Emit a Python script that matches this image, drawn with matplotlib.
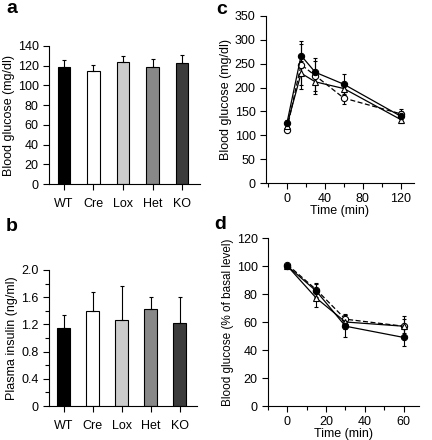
import matplotlib
matplotlib.use("Agg")
import matplotlib.pyplot as plt
from matplotlib.ticker import MultipleLocator, FuncFormatter

plt.rcParams["font.family"] = ["Liberation Sans", "DejaVu Sans"]
plt.rcParams["font.size"] = 8

# --- data -------------------------------------------------------------
genotypes = ["WT", "Cre", "Lox", "Het", "KO"]
bar_colors = ["#000000", "#ffffff", "#cccccc", "#888888", "#3c3c3c"]

glucose_mean = [119, 115, 124, 119, 123]
glucose_err = [7, 6, 6, 8, 8]

insulin_mean = [1.15, 1.40, 1.26, 1.42, 1.22]
insulin_err = [0.19, 0.27, 0.51, 0.18, 0.38]

gtt_time = [0, 15, 30, 60, 120]
gtt_filled = [125, 267, 232, 207, 140]
gtt_filled_err = [6, 25, 23, 22, 10]
gtt_triangle = [120, 230, 212, 198, 133]
gtt_triangle_err = [6, 25, 20, 12, 8]
gtt_open = [112, 248, 225, 178, 145]
gtt_open_err = [6, 50, 38, 13, 10]

itt_time = [0, 15, 30, 60]
itt_filled = [100, 82, 57, 49]
itt_filled_err = [0, 5, 8, 6]
itt_triangle = [100, 77, 60, 57]
itt_triangle_err = [0, 6, 5, 5]
itt_open = [101, 83, 62, 57]
itt_open_err = [0, 5, 4, 7]

W, H = 432, 440
fig = plt.figure(figsize=(W / 100, H / 100), dpi=100)


def axes_px(left, top, right, bottom):
    return fig.add_axes([left / W, 1 - bottom / H, (right - left) / W, (bottom - top) / H])


def style(ax):
    for s in ("top", "right"):
        ax.spines[s].set_visible(False)
    for s in ("left", "bottom"):
        ax.spines[s].set_linewidth(0.8)
    ax.tick_params(which="both", direction="out", width=0.8, labelsize=9)
    ax.tick_params(which="major", length=4)
    ax.tick_params(which="minor", length=3)


def bar_panel(ax, means, errs, ylim, step, minor, ylabel):
    x = range(len(genotypes))
    ax.bar(x, means, width=0.42, color=bar_colors, edgecolor="black", linewidth=0.8)
    ax.errorbar(x, means, yerr=[[0] * len(errs), errs], fmt="none",
                ecolor="black", elinewidth=0.8, capsize=1.5, capthick=0.8)
    ax.set_xlim(-0.5, 4.6)
    ax.set_ylim(*ylim)
    ax.yaxis.set_major_locator(MultipleLocator(step))
    if minor:
        ax.yaxis.set_minor_locator(MultipleLocator(minor))
    ax.set_xticks(list(x))
    ax.set_xticklabels(genotypes, fontsize=9)
    ax.tick_params(axis="x", length=0, pad=6)
    ax.set_ylabel(ylabel, fontsize=9, labelpad=2)
    style(ax)


def line_panel(ax, t, series):
    for y, err, marker, face, ls in series:
        ax.errorbar(t, y, yerr=err, color="black", lw=0.9, ls=ls, marker=marker,
                    ms=4.5, mfc=face, mec="black", mew=0.8, elinewidth=0.8,
                    capsize=1.5, capthick=0.8)
    style(ax)


# a
ax = axes_px(49, 46, 200, 184)
bar_panel(ax, glucose_mean, glucose_err, (0, 140), 20, None, "Blood glucose (mg/dl)")
ax.yaxis.set_major_formatter(FuncFormatter(lambda v, p: f"{v:.0f}"))

# b
ax = axes_px(49, 270, 197, 406)
bar_panel(ax, insulin_mean, insulin_err, (0, 2.0), 0.4, 0.2, "Plasma insulin (ng/ml)")
ax.yaxis.set_major_formatter(FuncFormatter(lambda v, p: "0" if abs(v) < 1e-9 else f"{v:.1f}"))

# c
ax = axes_px(266, 16, 414, 183)
line_panel(ax, gtt_time, [
    (gtt_open, gtt_open_err, "o", "white", (0, (4, 2))),
    (gtt_triangle, gtt_triangle_err, "^", "white", "-"),
    (gtt_filled, gtt_filled_err, "o", "black", "-"),
])
ax.set_xlim(-22, 134)
ax.set_ylim(0, 350)
ax.xaxis.set_major_locator(MultipleLocator(40))
ax.xaxis.set_minor_locator(MultipleLocator(20))
ax.yaxis.set_major_locator(MultipleLocator(50))
ax.set_xlabel("Time (min)", fontsize=9, labelpad=0)
ax.set_ylabel("Blood glucose (mg/dl)", fontsize=9, labelpad=2)

# d
ax = axes_px(268, 238, 419, 406)
line_panel(ax, itt_time, [
    (itt_open, itt_open_err, "o", "white", (0, (4, 2))),
    (itt_triangle, itt_triangle_err, "^", "white", "-"),
    (itt_filled, itt_filled_err, "o", "black", "-"),
])
ax.set_xlim(-10, 68)
ax.set_ylim(0, 120)
ax.xaxis.set_major_locator(MultipleLocator(20))
ax.xaxis.set_minor_locator(MultipleLocator(10))
ax.yaxis.set_major_locator(MultipleLocator(20))
ax.set_xlabel("Time (min)", fontsize=9, labelpad=0)
ax.set_ylabel("Blood glucose (% of basal level)", fontsize=8.5, labelpad=2)

for label, x, y in [("a", 6, 0), ("b", 6, 218), ("c", 216, 1), ("d", 214, 216)]:
    fig.text(x / W, 1 - y / H, label, fontsize=14, fontweight="bold", va="top", ha="left")

fig.savefig("out.png", dpi=100, facecolor="white")
